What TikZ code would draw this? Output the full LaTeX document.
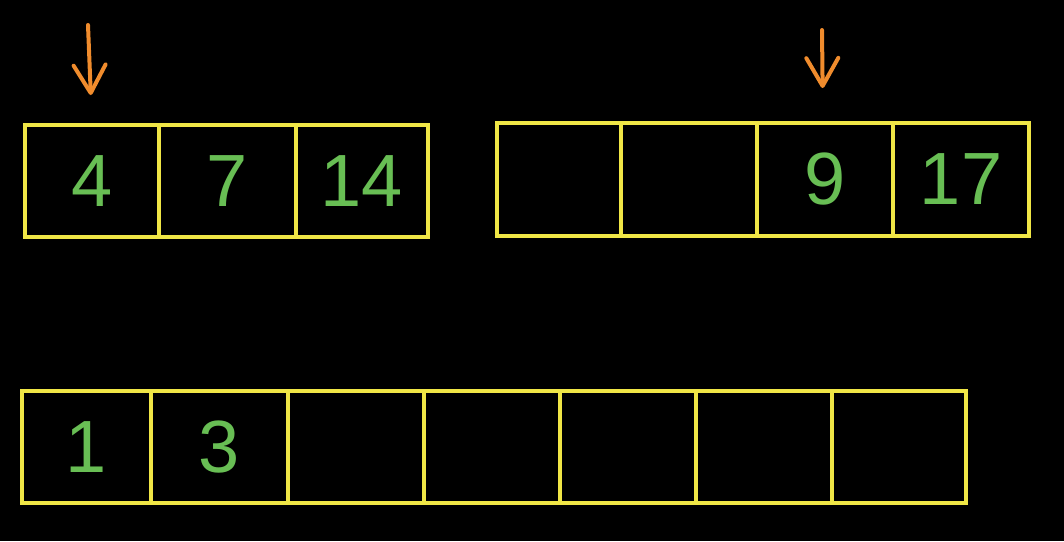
\documentclass[tikz,border=0pt]{standalone}
\usepackage{fontspec}
\setmainfont{Liberation Sans}
\usetikzlibrary{arrows.meta}
\definecolor{cellyellow}{RGB}{240,230,70}
\definecolor{numgreen}{RGB}{104,190,84}
\definecolor{ptrorange}{RGB}{240,140,45}
\tikzset{
  cell/.style={draw=cellyellow, line width=4pt, rectangle, inner sep=0pt, outer sep=0pt,
    text=numgreen, font=\fontsize{74}{74}\selectfont},
  pointer/.style={draw=ptrorange, line width=4pt, line cap=round,
    -{Straight Barb[length=28pt,width=32pt,line cap=round,round]}}
}
\begin{document}
\begin{tikzpicture}[x=1pt,y=-1pt]
\fill[black] (0,0) rectangle (1064,541);
\useasboundingbox (0,0) rectangle (1064,541);
% top-left array
\node[cell, minimum width=134pt, minimum height=112pt] (a1) at (92,181) {4};
\node[cell, minimum width=137pt, minimum height=112pt] (a2) at (227.5,181) {7};
\node[cell, minimum width=132pt, minimum height=112pt] (a3) at (362,181) {14};
% top-right array
\node[cell, minimum width=124pt, minimum height=113pt] (b1) at (559,179.5) {};
\node[cell, minimum width=136pt, minimum height=113pt] (b2) at (689,179.5) {};
\node[cell, minimum width=136pt, minimum height=113pt] (b3) at (825,179.5) {9};
\node[cell, minimum width=136pt, minimum height=113pt] (b4) at (961,179.5) {17};
% bottom array
\node[cell, minimum width=129pt, minimum height=112pt] (c1) at (86.5,447) {1};
\node[cell, minimum width=137pt, minimum height=112pt] (c2) at (219.5,447) {3};
\node[cell, minimum width=136pt, minimum height=112pt] (c3) at (356,447) {};
\node[cell, minimum width=136pt, minimum height=112pt] (c4) at (492,447) {};
\node[cell, minimum width=136pt, minimum height=112pt] (c5) at (628,447) {};
\node[cell, minimum width=136pt, minimum height=112pt] (c6) at (764,447) {};
\node[cell, minimum width=134pt, minimum height=112pt] (c7) at (899,447) {};
% pointers
\coordinate (p1) at (88,25);
\coordinate (p2) at (822,30);
\draw[pointer, shorten >=30pt] (p1) -- (a1.north);
\draw[pointer, shorten >=35pt] (p2) -- ([xshift=-2pt]b3.north);
\end{tikzpicture}
\end{document}
